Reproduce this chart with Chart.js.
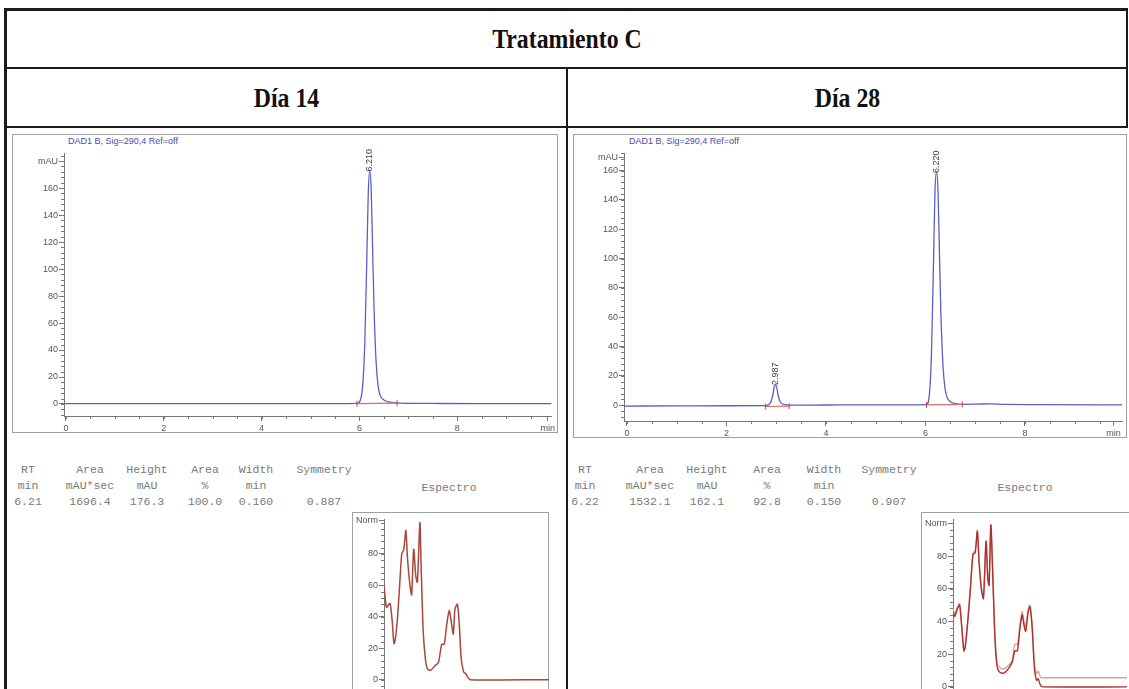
<!DOCTYPE html>
<html><head><meta charset="utf-8">
<script src="https://cdn.jsdelivr.net/npm/chart.js@4.4.0/dist/chart.umd.min.js"></script>
<style>
html,body{margin:0;padding:0;background:#fff;}
body{width:1129px;height:689px;overflow:hidden;position:relative;font-family:"Liberation Sans",Arial,sans-serif;}
.line{position:absolute;background:#1c1c1c;z-index:5;}
.hdr{position:absolute;display:flex;align-items:center;justify-content:center;font-family:"Liberation Serif","Times New Roman",serif;font-weight:bold;color:#111;font-size:28px;white-space:nowrap;}
.hdr span{display:inline-block;transform:scaleX(0.85);}
.frame{position:absolute;border:1px solid #a0a0a0;box-sizing:border-box;}
.sig{position:absolute;font-size:9px;color:#4b4bab;white-space:nowrap;line-height:10px;}
.tc{position:absolute;font-family:"Liberation Mono","Courier New",monospace;font-size:11.5px;color:#7a7a7a;white-space:pre;transform:translate(-50%,-50%);}
canvas{position:absolute;}
</style></head><body>

<div class="line" style="left:4px;top:8px;width:1124px;height:3px"></div>
<div class="line" style="left:4px;top:8px;width:3px;height:681px"></div>
<div class="line" style="left:1126px;top:8px;width:2px;height:120px"></div>
<div class="line" style="left:4px;top:67px;width:1124px;height:2px"></div>
<div class="line" style="left:4px;top:126px;width:1124px;height:2px"></div>
<div class="line" style="left:566px;top:68px;width:2px;height:621px"></div>

<div class="hdr" style="left:7px;top:11px;width:1119px;height:56px"><span id="hTitle"></span></div>
<div class="hdr" style="left:7px;top:69px;width:559px;height:57px"><span id="hDay14"></span></div>
<div class="hdr" style="left:568px;top:69px;width:558px;height:57px"><span id="hDay28"></span></div>

<div class="frame" style="left:12px;top:134px;width:546px;height:299px"></div>
<div class="frame" style="left:573px;top:134px;width:554px;height:304px"></div>
<div class="frame" style="left:352px;top:512px;width:197px;height:220px"></div>
<div class="frame" style="left:921px;top:512px;width:220px;height:220px"></div>

<div class="sig" id="sig14" style="left:68px;top:136px"></div>
<div class="sig" id="sig28" style="left:629px;top:136px"></div>

<canvas id="chrom14" width="544" height="297" style="left:13px;top:135px"></canvas>
<canvas id="chrom28" width="553" height="302" style="left:574px;top:135px"></canvas>
<canvas id="spec14" width="196" height="200" style="left:353px;top:513px"></canvas>
<canvas id="spec28" width="205" height="200" style="left:922px;top:513px"></canvas>

<div id="tables"></div>

<script>
// ---------- Text ----------
const titleText = 'Tratamiento C';
const dayLabels = ['Día 14', 'Día 28'];
const signalLabel = 'DAD1 B, Sig=290,4 Ref=off';
const spectrumLabel = 'Espectro';

// ---------- Chromatogram, Día 14 ----------
const day14Time   = [-0.04, 0.5, 1.5, 3.0, 4.5, 5.5, 5.95, 6.02, 6.07, 6.11, 6.15, 6.18, 6.21, 6.24, 6.27, 6.30, 6.34, 6.38, 6.43, 6.50, 6.60, 6.75, 7.0, 7.5, 8.5, 9.93];
const day14Signal = [0.3, 0.3, 0.3, 0.3, 0.3, 0.3, 0.5, 3, 15, 45, 105, 155, 173, 160, 115, 70, 32, 14, 6, 3, 1.5, 0.8, 0.5, 0.4, 0.3, 0.3];
const day14BaseTime   = [5.95, 6.77];
const day14BaseSignal = [0.3, 0.6];
const day14PeakTime = [6.21];
const day14PeakTop  = [173];
const day14PeakText = ['6.210'];

// ---------- Chromatogram, Día 28 ----------
const day28Time   = [-0.06, 1, 2, 2.78, 2.88, 2.93, 2.96, 2.987, 3.01, 3.05, 3.10, 3.20, 3.27, 4, 5, 6.02, 6.08, 6.12, 6.16, 6.19, 6.22, 6.25, 6.28, 6.31, 6.35, 6.39, 6.44, 6.50, 6.60, 6.74, 7.0, 7.3, 7.6, 8.2, 9.95];
const day28Signal = [-0.5, -0.4, -0.3, -0.2, 1.5, 7, 12.5, 14.5, 12, 5, 1.5, 0.3, 0.1, 0.2, 0.3, 0.5, 8, 35, 95, 145, 159, 148, 105, 62, 28, 12, 5, 2.5, 1.2, 0.7, 0.8, 1.0, 0.6, 0.5, 0.3];
const day28BaseTime   = [2.78, 3.26, 4.6, 6.02, 6.74];
const day28BaseSignal = [-0.8, -0.6, null, 0.3, 0.6];
const day28PeakTime = [2.987, 6.22];
const day28PeakTop  = [14.5, 159];
const day28PeakText = ['2.987', '6.220'];

// ---------- Axis ticks ----------
const chromXTicks = [0, 2, 4, 6, 8];
const chromXTickLabels = ['0', '2', '4', '6', '8'];
const chromYTicks = [0, 20, 40, 60, 80, 100, 120, 140, 160];
const chromYTickLabels = ['0', '20', '40', '60', '80', '100', '120', '140', '160'];
const chromUnitX = 'min';
const chromUnitY = 'mAU';
const specYTicks = [0, 20, 40, 60, 80];
const specYTickLabels = ['0', '20', '40', '60', '80'];
const specUnitY = 'Norm';

// ---------- Spectra ----------
const spec14Wavelength = [200,203,206,212,215,220,224,227,232,237,243,248,253,257,263,267,272,277,281,287,290,295,300,305,313,324,332,340,346,352,358,363,368,372,378,383,387,393,398,402,409,600];
const spec14Norm       = [60,52,46,48,48.5,37,23,25,37,56,80,83,95,77,60,54,83,66,62,100,72,31,14,7,6,9,11,22.5,22.5,35,44,37,29,45,48,33,14,5,4,2,0,0];
const spec28Wavelength = [200,204,209,215,219,225,228,234,240,246,251,256,260,265,270,276,280,283,287,291,296,301,307,317,327,336,342,348,354,359,363,367,373,377,382,387,392,396,401,407,600];
const spec28NormA      = [46,43,47,50,40,22,24,40,60,81,82,95,76,60,54,89,66,62,99,72,32,13,9,8.4,11,15,22,22,36,44,38,34,46,49,36,12,4,5,1,0,0];
const spec28NormB      = [48,44,48,51,41,23,25,41,61,82,83,96,77,61,55,89,67,63,99,73,34,15,12,11,13,16,26,26,38,46,40,37,48,50,38,15,8,9.6,6,5.6,5.6];

// ---------- Peak table ----------
const tableHead  = ['RT', 'Area', 'Height', 'Area', 'Width', 'Symmetry'];
const tableUnits = ['min', 'mAU*sec', 'mAU', '%', 'min', ''];
const day14Row   = ['6.21', '1696.4', '176.3', '100.0', '0.160', '0.887'];
const day28Row   = ['6.22', '1532.1', '162.1', '92.8', '0.150', '0.907'];

// ---------- Layout (positions only) ----------
const colX14 = [28, 90, 147, 205, 256, 324];
const colX28 = [585, 650, 707, 767, 824, 889];
const rowY = [469, 485, 501];
const espX = [449, 1025], espY = 487;

document.getElementById('hTitle').textContent = titleText;
document.getElementById('hDay14').textContent = dayLabels[0];
document.getElementById('hDay28').textContent = dayLabels[1];
document.getElementById('sig14').textContent = signalLabel;
document.getElementById('sig28').textContent = signalLabel;

const tables = document.getElementById('tables');
function addText(txt, x, y) {
  const d = document.createElement('div');
  d.className = 'tc'; d.textContent = txt;
  d.style.left = x + 'px'; d.style.top = y + 'px';
  tables.appendChild(d);
}
[[colX14, day14Row], [colX28, day28Row]].forEach(([cols, row]) => {
  [tableHead, tableUnits, row].forEach((r, ri) => r.forEach((t, ci) => { if (t) addText(t, cols[ci], rowY[ri]); }));
});
addText(spectrumLabel, espX[0], espY);
addText(spectrumLabel, espX[1], espY);

// ---------- Chart helpers ----------
const FONT = '"Liberation Sans", Arial, sans-serif';
const AXIS = '#777';
const TXT = '#555';

function pts(xs, ys) { return xs.map((x, i) => ({ x: x, y: ys[i] })); }

function minorPlugin(xStep, yStep, showX) {
  return {
    id: 'minorTicks',
    afterDraw(chart) {
      const { ctx, chartArea: a, scales: { x, y } } = chart;
      ctx.save();
      ctx.strokeStyle = AXIS; ctx.lineWidth = 1;
      ctx.beginPath();
      if (showX) {
        for (let v = Math.ceil(x.min / xStep) * xStep; v <= x.max; v += xStep) {
          const px = Math.round(x.getPixelForValue(v)) + 0.5;
          ctx.moveTo(px, a.bottom); ctx.lineTo(px, a.bottom + 3);
        }
      }
      for (let v = Math.ceil(y.min / yStep) * yStep; v <= y.max; v += yStep) {
        const py = Math.round(y.getPixelForValue(v)) + 0.5;
        ctx.moveTo(a.left - 3, py); ctx.lineTo(a.left, py);
      }
      ctx.stroke();
      ctx.restore();
    }
  };
}

function peakPlugin(times, tops, texts) {
  return {
    id: 'peakLabels',
    afterDatasetsDraw(chart) {
      const { ctx, scales: { x, y } } = chart;
      ctx.save();
      ctx.font = '9px ' + FONT;
      ctx.fillStyle = '#3b3b55';
      ctx.textAlign = 'left';
      ctx.textBaseline = 'middle';
      times.forEach((t, i) => {
        ctx.save();
        ctx.translate(x.getPixelForValue(t), y.getPixelForValue(tops[i]) + 1);
        ctx.rotate(-Math.PI / 2);
        ctx.fillText(texts[i], 0, 0);
        ctx.restore();
      });
      ctx.restore();
    }
  };
}

function buildChart(id, o) {
  return new Chart(document.getElementById(id), {
    type: 'line',
    data: { datasets: o.datasets },
    options: {
      responsive: false, animation: false, devicePixelRatio: 1,
      layout: { padding: o.padding },
      plugins: { legend: { display: false }, tooltip: { enabled: false }, title: { display: false } },
      elements: { point: { radius: 0 } },
      scales: {
        x: {
          type: 'linear', min: o.xMin, max: o.xMax,
          afterBuildTicks: s => { s.ticks = o.xTicks.map(v => ({ value: v })); },
          afterFit: s => { s.height = o.xHeight; },
          ticks: { display: o.showX, callback: (v, i) => o.xLabels[i], font: { family: FONT, size: 9 }, color: TXT, padding: 2, maxRotation: 0, autoSkip: false },
          grid: { drawOnChartArea: false, drawTicks: true, tickLength: 5, color: AXIS, tickColor: AXIS },
          border: { display: true, color: AXIS, width: 1 }
        },
        y: {
          type: 'linear', min: o.yMin, max: o.yMax,
          afterBuildTicks: s => { s.ticks = o.yTicks.map(v => ({ value: v })); },
          afterFit: s => { s.width = o.yWidth; },
          ticks: { callback: (v, i) => o.yLabels[i], font: { family: FONT, size: 9 }, color: TXT, padding: 1, autoSkip: false },
          grid: { drawOnChartArea: false, drawTicks: true, tickLength: 5, color: AXIS, tickColor: AXIS },
          border: { display: true, color: AXIS, width: 1 }
        }
      }
    },
    plugins: o.plugins
  });
}

function signalDs(xs, ys) {
  return { data: pts(xs, ys), borderColor: '#5d5dc6', borderWidth: 1.3, pointRadius: 0, cubicInterpolationMode: 'monotone', fill: false, order: 2 };
}
function baseDs(xs, ys) {
  return { data: pts(xs, ys), borderColor: '#e06a6a', borderWidth: 1.2, pointStyle: 'line', pointRadius: 3, pointRotation: 90, pointBorderColor: '#b84a4a', pointBorderWidth: 1, spanGaps: false, order: 1 };
}

buildChart('chrom14', {
  datasets: [baseDs(day14BaseTime, day14BaseSignal), signalDs(day14Time, day14Signal)],
  padding: { top: 18, right: 1, left: 0, bottom: 0 },
  xMin: -0.04, xMax: 9.93, yMin: -8.9, yMax: 186,
  xTicks: chromXTicks.concat([9.85]), xLabels: chromXTickLabels.concat([chromUnitX]),
  yTicks: chromYTicks.concat([180]), yLabels: chromYTickLabels.concat([chromUnitY]),
  xHeight: 16, yWidth: 51, showX: true,
  plugins: [minorPlugin(0.5, 4, true), peakPlugin(day14PeakTime, day14PeakTop, day14PeakText)]
});

buildChart('chrom28', {
  datasets: [baseDs(day28BaseTime, day28BaseSignal), signalDs(day28Time, day28Signal)],
  padding: { top: 18, right: 2, left: 0, bottom: 0 },
  xMin: -0.06, xMax: 9.95, yMin: -10.7, yMax: 172,
  xTicks: chromXTicks.concat([9.78]), xLabels: chromXTickLabels.concat([chromUnitX]),
  yTicks: chromYTicks.concat([169]), yLabels: chromYTickLabels.concat([chromUnitY]),
  xHeight: 16, yWidth: 50, showX: true,
  plugins: [minorPlugin(0.5, 4, true), peakPlugin(day28PeakTime, day28PeakTop, day28PeakText)]
});

function specDs(xs, ys, color, w) {
  return { data: pts(xs, ys), borderColor: color, borderWidth: w, pointRadius: 0, tension: 0.25, fill: false };
}

buildChart('spec14', {
  datasets: [specDs(spec14Wavelength, spec14Norm, '#a8473a', 1.5)],
  padding: { top: 3, right: 0, left: 0, bottom: 0 },
  xMin: 200, xMax: 600, yMin: -11, yMax: 102,
  xTicks: [], xLabels: [],
  yTicks: specYTicks.concat([101]), yLabels: specYTickLabels.concat([specUnitY]),
  xHeight: 16, yWidth: 31, showX: false,
  plugins: [minorPlugin(50, 4, false)]
});

buildChart('spec28', {
  datasets: [specDs(spec28Wavelength, spec28NormA, '#b0302c', 1.4), specDs(spec28Wavelength, spec28NormB, '#d0a59c', 1.4)],
  padding: { top: 3, right: 0, left: 0, bottom: 0 },
  xMin: 200, xMax: 600, yMin: -6.2, yMax: 102.4,
  xTicks: [], xLabels: [],
  yTicks: specYTicks.concat([100]), yLabels: specYTickLabels.concat([specUnitY]),
  xHeight: 16, yWidth: 31, showX: false,
  plugins: [minorPlugin(50, 4, false)]
});
</script>
</body></html>
